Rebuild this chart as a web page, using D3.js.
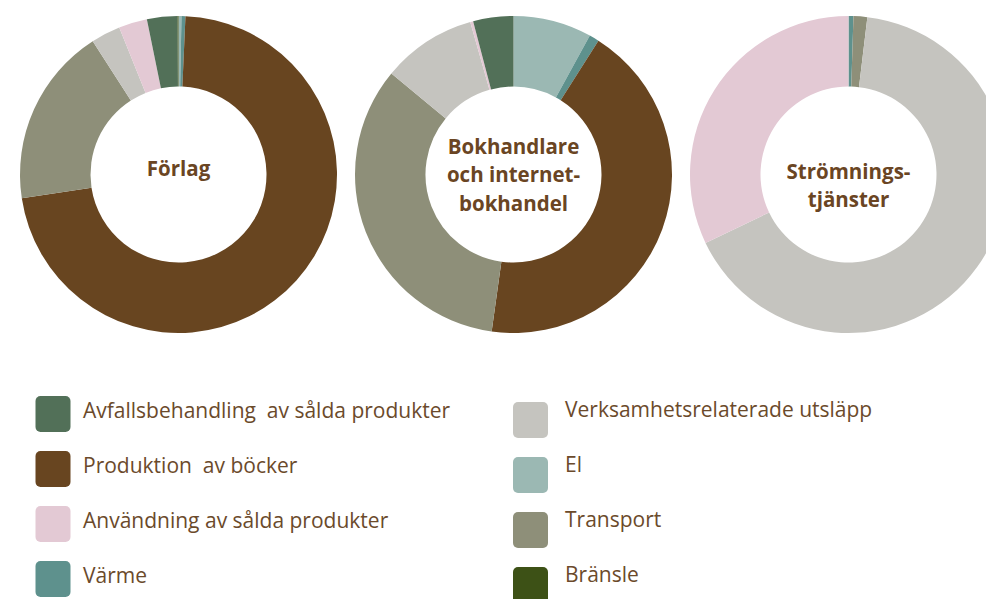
<!DOCTYPE html>
<html>
<head>
<meta charset="utf-8">
<script src="https://cdn.jsdelivr.net/npm/d3@7"></script>
<style>
  body { margin: 0; background: #fff; }
  svg { display: block; }
  .title { font-family: "Open Sans", sans-serif; font-weight: 700; fill: #6a4523; }
  .legend-label { font-family: "Open Sans", sans-serif; font-size: 21px; fill: #6b4a2b; white-space: pre; }
</style>
</head>
<body>
<svg id="chart"></svg>
<script>
// slice order, clockwise from 12 o'clock
const categories = ['El', 'Värme', 'Produktion  av böcker', 'Transport',
  'Verksamhetsrelaterade utsläpp', 'Användning av sålda produkter',
  'Avfallsbehandling  av sålda produkter', 'Bränsle'];

// share of emissions (%)
const forlagValues = [0.3, 0.4, 71.9, 18.3, 3.0, 2.9, 3.1, 0.1];
const bokhandelValues = [8.0, 1.0, 43.2, 33.8, 9.6, 0.3, 4.1, 0];
const stromningValues = [0, 0.5, 0, 1.4, 66.0, 32.1, 0, 0];

const chartTitles = [
  ['Förlag'],
  ['Bokhandlare', 'och internet-', 'bokhandel'],
  ['Strömnings-', 'tjänster']
];

const legendLeft = ['Avfallsbehandling  av sålda produkter', 'Produktion  av böcker',
  'Användning av sålda produkter', 'Värme'];
const legendRight = ['Verksamhetsrelaterade utsläpp', 'El', 'Transport', 'Bränsle'];

const colorScale = d3.scaleOrdinal()
  .domain(categories)
  .range(['#9bb8b3', '#5e918d', '#684520', '#8e8f79', '#c5c4bf', '#e3c9d4', '#527058', '#3d5116']);

const width = 986, height = 599;
const svg = d3.select('#chart').attr('width', width).attr('height', height);

class Donut {
  constructor(_config, _values, _title) {
    this.config = {
      cx: _config.cx,
      cy: _config.cy || 174.5,
      outer: _config.outer || 158.5,
      inner: _config.inner || 88,
      titleY: _config.titleY,
      lineHeight: _config.lineHeight || 28.5,
      fontSize: _config.fontSize || 20.5
    };
    this.values = _values;
    this.title = _title;
    this.renderVis();
  }

  renderVis() {
    let vis = this;
    let data = categories.map((c, i) => ({ key: c, value: vis.values[i] }));

    let pie = d3.pie().sort(null).value(d => d.value);
    let arc = d3.arc().innerRadius(vis.config.inner).outerRadius(vis.config.outer);

    vis.g = svg.append('g')
      .attr('transform', `translate(${vis.config.cx},${vis.config.cy})`);

    vis.g.selectAll('.slice')
        .data(pie(data).filter(d => d.value > 0))
      .join('path')
        .attr('class', 'slice')
        .attr('d', arc)
        .attr('fill', d => colorScale(d.data.key));

    vis.g.selectAll('.title')
        .data(vis.title)
      .join('text')
        .attr('class', 'title')
        .attr('text-anchor', 'middle')
        .attr('font-size', vis.config.fontSize)
        .attr('y', (d, i) => vis.config.titleY + i * vis.config.lineHeight)
        .text(d => d);
  }
}

new Donut({ cx: 178.5, titleY: 1.5 }, forlagValues, chartTitles[0]);
new Donut({ cx: 513.5, titleY: -21 }, bokhandelValues, chartTitles[1]);
new Donut({ cx: 848.5, titleY: 4 }, stromningValues, chartTitles[2]);

// legend, two columns
function drawLegend(labels, x, y0, textDy, textX) {
  let rowY = d3.scaleLinear().domain([0, 1]).range([y0, y0 + 55]);
  let g = svg.append('g');
  let rows = g.selectAll('.legend-row')
      .data(labels)
    .join('g')
      .attr('class', 'legend-row')
      .attr('transform', (d, i) => `translate(${x},${rowY(i)})`);

  rows.append('rect')
    .attr('width', 35)
    .attr('height', 36)
    .attr('rx', 5)
    .attr('fill', d => colorScale(d));

  rows.append('text')
    .attr('class', 'legend-label')
    .attr('x', textX)
    .attr('y', textDy)
    .text(d => d);
}

drawLegend(legendLeft, 35.5, 396, 22.3, 47.5);
drawLegend(legendRight, 513, 402, 15.3, 52);
</script>
</body>
</html>
